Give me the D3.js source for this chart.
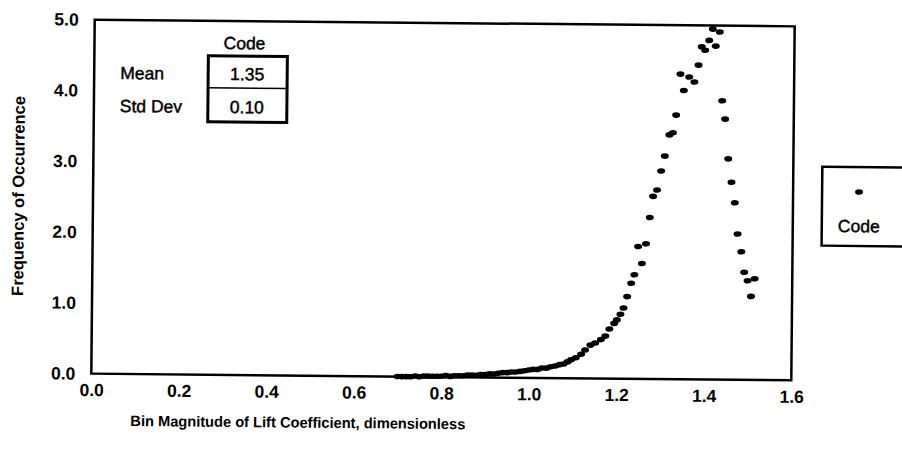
<!DOCTYPE html>
<html>
<head>
<meta charset="utf-8">
<script src="https://cdn.jsdelivr.net/npm/d3@7"></script>
<style>
  html, body { margin: 0; padding: 0; background: #fff; }
  svg { display: block; }
  text { font-family: "Liberation Sans", Arial, sans-serif; fill: #000; }
  .heavy { stroke: #000; stroke-width: 0.45px; }
</style>
</head>
<body>
<svg id="chart" width="902" height="458"></svg>
<script>
// Histogram of lift-coefficient magnitude: bin centre and frequency (%)
const binMagnitude = [
  0.70, 0.71, 0.72, 0.73, 0.74, 0.75, 0.76, 0.77, 0.78, 0.79,
  0.80, 0.81, 0.82, 0.83, 0.84, 0.85, 0.86, 0.87, 0.88, 0.89,
  0.90, 0.91, 0.92, 0.93, 0.94, 0.95, 0.96, 0.97, 0.98, 0.99,
  1.00, 1.01, 1.02, 1.03, 1.04, 1.05, 1.06, 1.07,
  1.079, 1.088, 1.096, 1.107, 1.119, 1.128, 1.140, 1.151, 1.164, 1.174,
  1.183, 1.194, 1.200, 1.208, 1.215, 1.223, 1.232, 1.239, 1.247, 1.256,
  1.265, 1.273, 1.280, 1.289, 1.298, 1.306, 1.316, 1.324, 1.331, 1.340,
  1.348, 1.360, 1.372, 1.381, 1.388, 1.396, 1.405, 1.413, 1.420, 1.429,
  1.436, 1.443, 1.451, 1.459, 1.467, 1.474, 1.483, 1.490, 1.498, 1.506,
  1.514
];
const frequency = [
  0.00, 0.00, 0.00, 0.00, 0.01, 0.00, 0.01, 0.01, 0.01, 0.01,
  0.01, 0.02, 0.01, 0.02, 0.02, 0.02, 0.03, 0.03, 0.03, 0.04,
  0.04, 0.05, 0.05, 0.06, 0.07, 0.07, 0.08, 0.08, 0.09, 0.10,
  0.11, 0.12, 0.12, 0.14, 0.14, 0.16, 0.17, 0.19,
  0.20, 0.23, 0.26, 0.29, 0.34, 0.40, 0.47, 0.50, 0.55, 0.60,
  0.70, 0.78, 0.83, 0.91, 1.00, 1.16, 1.35, 1.47, 1.87, 1.63,
  1.91, 2.28, 2.58, 2.67, 2.94, 3.15, 3.45, 3.48, 3.73, 4.31,
  4.08, 4.27, 4.20, 4.44, 4.70, 4.65, 4.79, 4.95, 4.71, 4.91,
  3.94, 3.68, 3.12, 2.79, 2.50, 2.06, 1.81, 1.52, 1.40, 1.18,
  1.43
];

const xTicks = [0, 0.2, 0.4, 0.6, 0.8, 1.0, 1.2, 1.4, 1.6];
const yTicks = [0, 1, 2, 3, 4, 5];

const seriesName = "Code";
const statLabels = ["Mean", "Std Dev"];
const statValues = ["1.35", "0.10"];

const xTitle = "Bin Magnitude of Lift Coefficient, dimensionless";
const yTitle = "Frequency of Occurrence";

const points = binMagnitude.map((v, i) => ({ v, f: frequency[i] }));

const svg = d3.select("#chart");
// the printed page sits slightly askew
const root = svg.append("g").attr("transform", "rotate(0.55, 443, 200)");

const plot = { left: 93, right: 793, top: 23, bottom: 377 };
const x = d3.scaleLinear().domain([0, 1.6]).range([plot.left, plot.right]);
const y = d3.scaleLinear().domain([0, 5]).range([plot.bottom, plot.top]);

// plot frame
root.append("rect")
  .attr("x", plot.left).attr("y", plot.top)
  .attr("width", plot.right - plot.left).attr("height", plot.bottom - plot.top)
  .attr("fill", "none").attr("stroke", "#000").attr("stroke-width", 2.5);

// axes: labels only, no tick marks
const xAxis = d3.axisBottom(x).tickValues(xTicks).tickFormat(d3.format(".1f")).tickSize(0).tickPadding(10);
const gx = root.append("g").attr("transform", `translate(0,${plot.bottom})`).call(xAxis);
gx.select(".domain").remove();
gx.selectAll("text").attr("font-size", 17.5).attr("font-weight", "bold")
  .attr("font-family", "'Liberation Sans', Arial, sans-serif");

const yAxis = d3.axisLeft(y).tickValues(yTicks).tickFormat(d3.format(".1f")).tickSize(0).tickPadding(16);
const gy = root.append("g").attr("transform", `translate(${plot.left},0)`).call(yAxis);
gy.select(".domain").remove();
gy.selectAll("text").attr("font-size", 17.5).attr("font-weight", "bold")
  .attr("font-family", "'Liberation Sans', Arial, sans-serif");

// axis titles
root.append("text")
  .attr("x", 300).attr("y", 429)
  .attr("text-anchor", "middle")
  .attr("font-size", 15).attr("font-weight", "bold")
  .attr("textLength", 335).attr("lengthAdjust", "spacingAndGlyphs")
  .text(xTitle);

root.append("text")
  .attr("transform", `translate(24, ${(plot.top + plot.bottom) / 2}) rotate(-90)`)
  .attr("text-anchor", "middle")
  .attr("font-size", 16.5).attr("font-weight", "bold")
  .text(yTitle);

// data markers
root.append("g").selectAll("ellipse")
  .data(points)
  .join("ellipse")
  .attr("cx", d => x(d.v))
  .attr("cy", d => y(d.f))
  .attr("rx", 4).attr("ry", 2.8)
  .attr("fill", "#000");

// statistics table
const table = root.append("g");
table.append("text")
  .attr("class", "heavy")
  .attr("x", 243).attr("y", 45).attr("dy", "0.35em")
  .attr("text-anchor", "middle").attr("font-size", 17.5)
  .text(seriesName);
table.append("rect")
  .attr("x", 207).attr("y", 58).attr("width", 79).attr("height", 66)
  .attr("fill", "none").attr("stroke", "#000").attr("stroke-width", 3);
table.append("line")
  .attr("x1", 207).attr("x2", 286).attr("y1", 90).attr("y2", 90)
  .attr("stroke", "#000").attr("stroke-width", 1.5);
const rowY = [76, 109];
statLabels.forEach((lab, i) => {
  table.append("text")
    .attr("class", "heavy")
    .attr("x", 119).attr("y", rowY[i]).attr("dy", "0.35em")
    .attr("font-size", 17.5).text(lab);
  table.append("text")
    .attr("class", "heavy")
    .attr("x", 246).attr("y", rowY[i]).attr("dy", "0.35em")
    .attr("text-anchor", "middle").attr("font-size", 17.5).text(statValues[i]);
});

// legend
const legend = root.append("g");
legend.append("rect")
  .attr("x", 822).attr("y", 163).attr("width", 100).attr("height", 79)
  .attr("fill", "#fff").attr("stroke", "#000").attr("stroke-width", 2.5);
legend.append("ellipse")
  .attr("cx", 859).attr("cy", 188).attr("rx", 4).attr("ry", 2.8).attr("fill", "#000");
legend.append("text")
  .attr("class", "heavy")
  .attr("x", 859).attr("y", 222).attr("dy", "0.35em")
  .attr("text-anchor", "middle").attr("font-size", 17.5)
  .text(seriesName);
</script>
</body>
</html>
